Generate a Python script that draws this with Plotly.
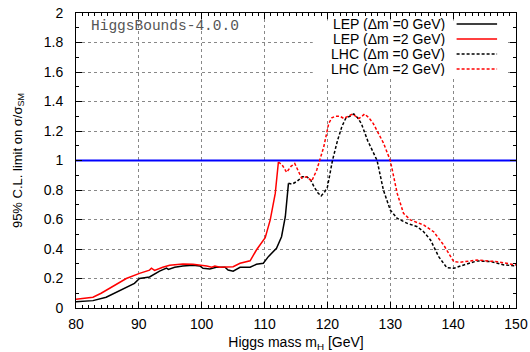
import plotly.graph_objects as go

# LEP, delta m = 0 GeV (solid black)
lep0_m = [80, 82.7, 84.8, 86.5, 88, 89.3, 90.1, 91.7, 93.3, 94.4, 94.7, 95.7, 97.0, 98.6, 99.7,
          100.2, 101.3, 102.3, 103.7, 104.2, 105.0, 106.1, 107.7, 108.7, 109.8, 110.6, 111.9,
          112.7, 113.3, 113.8]
lep0_v = [0.043, 0.05, 0.073, 0.11, 0.144, 0.167, 0.2, 0.21, 0.25, 0.27, 0.262, 0.276, 0.285, 0.29, 0.285,
          0.269, 0.265, 0.276, 0.276, 0.258, 0.25, 0.276, 0.276, 0.296, 0.303, 0.348, 0.405,
          0.483, 0.619, 0.845]

# LEP, delta m = 2 GeV (solid red)
lep2_m = [80, 82.7, 84, 85.3, 86.7, 88, 90.1, 91.7, 92.0, 92.5, 93.8, 94.9, 97.0, 98.6, 100.8,
          101.6, 102.1, 102.9, 105.0, 106.1, 107.7, 108.7, 110.1, 110.9, 111.7, 112.2]
lep2_v = [0.059, 0.073, 0.1, 0.133, 0.167, 0.2, 0.235, 0.257, 0.27, 0.255, 0.276, 0.29, 0.298, 0.296, 0.285,
          0.276, 0.285, 0.276, 0.28, 0.303, 0.32, 0.393, 0.477, 0.597, 0.777, 0.99]

# LHC, delta m = 0 GeV (dashed black)
lhc0_m = [113.8, 114.4, 115.2, 116.0, 116.7, 117.3, 117.9, 118.5, 119.0, 119.6, 120.0, 120.8, 121.6,
          122.3, 122.9, 123.6, 124.2, 124.8, 125.4, 126.4, 127.2, 127.9, 128.9, 130.0, 131.1, 132.7,
          134.3, 135.3, 136.4, 137.7, 139.0, 140.1, 141.7, 143.8, 146.0, 148.1, 150]
lhc0_v = [0.845, 0.84, 0.86, 0.89, 0.89, 0.87, 0.82, 0.78, 0.76, 0.79, 0.82, 1.0, 1.135,
          1.23, 1.285, 1.30, 1.315, 1.29, 1.25, 1.135, 1.06, 1.0, 0.8, 0.664, 0.608, 0.574,
          0.551, 0.517, 0.461, 0.348, 0.273, 0.269, 0.292, 0.319, 0.314, 0.292, 0.285]

# LHC, delta m = 2 GeV (dashed red)
lhc2_m = [112.2, 112.8, 113.5, 114.2, 114.8, 115.3, 115.9, 116.7, 117.5, 118.3, 118.8, 119.4, 120.2,
          120.7, 121.3, 122.0, 122.6, 123.3, 124.0, 124.5, 125.0, 125.5, 125.9, 126.6, 127.3, 128.9,
          130.0, 131.1, 132.1, 133.2, 135.3, 136.9, 138.5, 140.1, 141.1, 143.8, 147.0, 150]
lhc2_v = [0.99, 0.97, 0.92, 0.96, 0.98, 0.93, 0.88, 0.89, 0.86, 0.935, 1.0, 1.09, 1.25,
          1.29, 1.30, 1.30, 1.285, 1.30, 1.315, 1.30, 1.285, 1.30, 1.315, 1.29, 1.25, 1.12,
          1.0, 0.777, 0.642, 0.597, 0.563, 0.517, 0.427, 0.314, 0.31, 0.325, 0.314, 0.292]

ref_m = [80, 150]
ref_v = [1, 1]

x_ticks = [80, 90, 100, 110, 120, 130, 140, 150]
y_ticks = [0, 0.2, 0.4, 0.6, 0.8, 1, 1.2, 1.4, 1.6, 1.8, 2]
y_ticktext = ["0", "0.2", "0.4", "0.6", "0.8", "1", "1.2", "1.4", "1.6", "1.8", "2"]

legend_labels = ["LEP (Δm =0 GeV)", "LEP (Δm =2 GeV)", "LHC (Δm =0 GeV)", "LHC (Δm =2 GeV)"]
legend_colors = ["#000000", "#ff0000", "#000000", "#ff0000"]
legend_dash = ["solid", "solid", "3px,2px", "3px,2px"]

FONT = "Liberation Sans, Arial, sans-serif"

fig = go.Figure()
fig.add_trace(go.Scatter(x=ref_m, y=ref_v, mode="lines",
                         line=dict(color="#0000ff", width=2), showlegend=False))
fig.add_trace(go.Scatter(x=lep0_m, y=lep0_v, mode="lines", name=legend_labels[0],
                         line=dict(color=legend_colors[0], width=1.5), showlegend=False))
fig.add_trace(go.Scatter(x=lep2_m, y=lep2_v, mode="lines", name=legend_labels[1],
                         line=dict(color=legend_colors[1], width=1.5), showlegend=False))
fig.add_trace(go.Scatter(x=lhc0_m, y=lhc0_v, mode="lines", name=legend_labels[2],
                         line=dict(color=legend_colors[2], width=1.5, dash=legend_dash[2]),
                         showlegend=False))
fig.add_trace(go.Scatter(x=lhc2_m, y=lhc2_v, mode="lines", name=legend_labels[3],
                         line=dict(color=legend_colors[3], width=1.5, dash=legend_dash[3]),
                         showlegend=False))

# white legend area that hides the grid (gnuplot key box); no data lies there
fig.add_shape(type="rect", xref="paper", yref="paper", x0=0.538, x1=0.98, y0=0.786, y1=0.975,
              line=dict(width=0), fillcolor="white", layer="above")

# Manual gnuplot-style legend (text right-aligned, sample line on the right)
row_y = [0.963, 0.912, 0.861, 0.810]
for lab, col, dsh, yy in zip(legend_labels, legend_colors, legend_dash, row_y):
    fig.add_annotation(x=0.842, y=yy, xref="paper", yref="paper", text=lab,
                       showarrow=False, xanchor="right", yanchor="middle",
                       borderpad=0, height=14,
                       font=dict(family=FONT, size=14, color="#000"))
    fig.add_shape(type="line", xref="paper", yref="paper", x0=0.865, x1=0.957, y0=yy, y1=yy,
                  line=dict(color=col, width=1.5, dash=dsh), layer="above")

fig.add_annotation(x=0.029, y=0.957, xref="paper", yref="paper", text="HiggsBounds-4.0.0",
                   showarrow=False, xanchor="left", yanchor="middle",
                   font=dict(family="Liberation Mono, Courier New, monospace", size=14.5, color="#555555"))

axis_common = dict(showline=True, linecolor="#000", linewidth=1, mirror="allticks",
                   ticks="inside", ticklen=6, tickcolor="#000", tickwidth=1,
                   showgrid=True, gridcolor="#888888", griddash="dot", gridwidth=1,
                   zeroline=False, automargin=False,
                   tickfont=dict(family=FONT, size=14, color="#000"))

fig.update_xaxes(range=[80, 150], tickvals=x_ticks, ticklabelstandoff=3,
                 minor=dict(dtick=1, ticklen=3, ticks="inside", tickcolor="#000", showgrid=False),
                 title=dict(text="Higgs mass m<sub>H</sub> [GeV]", standoff=9,
                            font=dict(family=FONT, size=14, color="#000")),
                 **axis_common)
fig.update_yaxes(range=[0, 2], tickvals=y_ticks, ticktext=y_ticktext, ticklabelstandoff=9,
                 minor=dict(dtick=0.1, ticklen=3, ticks="inside", tickcolor="#000", showgrid=False),
                 title=dict(text="95% C.L. limit on σ/σ<sub>SM</sub>", standoff=18,
                            font=dict(family=FONT, size=13, color="#000")),
                 **axis_common)

fig.update_layout(width=530, height=352, margin=dict(l=76, r=14, t=13, b=44),
                  paper_bgcolor="white", plot_bgcolor="white", showlegend=False)

fig.write_html("out.html")
